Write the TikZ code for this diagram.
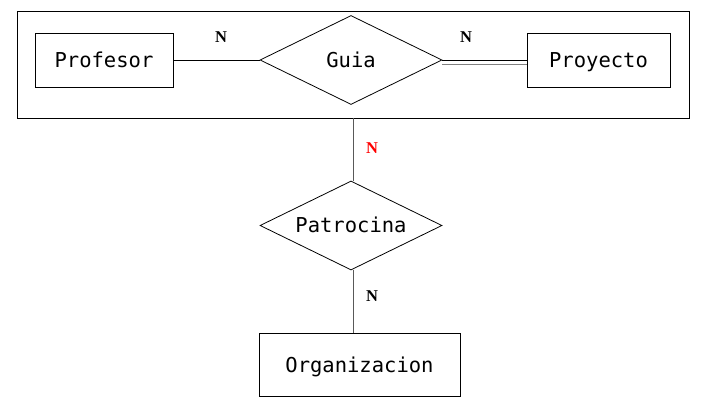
\documentclass[tikz,border=0pt]{standalone}
\usepackage{fontspec}
\setmonofont{DejaVu Sans Mono}
\newfontfamily\labfont{Liberation Serif}
\usetikzlibrary{shapes.geometric}
\begin{document}
\begin{tikzpicture}[x=1pt,y=-1pt,
  lbl/.style={font=\ttfamily\fontsize{20.5}{20.5}\selectfont,text height=15pt,text depth=0pt},
  ent/.style={draw,line width=0.8pt,minimum width=138pt,minimum height=54pt,inner sep=0pt,lbl},
  rel/.style={draw,line width=0.8pt,diamond,minimum width=182pt,minimum height=89pt,inner sep=0pt,aspect=2,lbl},
  card/.style={font=\labfont\bfseries\fontsize{16.5}{16.5}\selectfont},
  conn/.style={line width=0.8pt}]
\useasboundingbox (0,0) rectangle (706,411);
\node[draw,line width=0.8pt,minimum width=672pt,minimum height=107pt,inner sep=0pt] (agg) at (353,64.5) {};
\node[ent] (prof) at (104,60) {Profesor};
\node[rel] (guia) at (351,60) {Guia};
\node[ent,minimum width=143pt] (proy) at (598.5,60) {Proyecto};
\node[rel] (patr) at (351,225.5) {Patrocina};
\node[ent,minimum width=201pt,minimum height=63pt] (org) at (359.5,364.5) {Organizacion};
\draw[conn] (prof.east) -- (guia.west);
\draw[conn] (guia.east) -- (proy.west);
\draw[conn,gray] ([yshift=-4pt]guia.east) -- ([yshift=-4pt]proy.west);
\coordinate (aggb) at (353,118);
\coordinate (patt) at (353,181);
\draw[conn,gray!70!black] (aggb) -- (patt);
\coordinate (patb) at (353,270);
\coordinate (orgt) at (353,333);
\draw[conn,gray!70!black] (patb) -- (orgt);
\node[card] (n1) at (221,37) {N};
\node[card] (n2) at (466,37) {N};
\node[card,red] (n3) at (372,148) {N};
\node[card] (n4) at (372,296) {N};
\end{tikzpicture}
\end{document}
